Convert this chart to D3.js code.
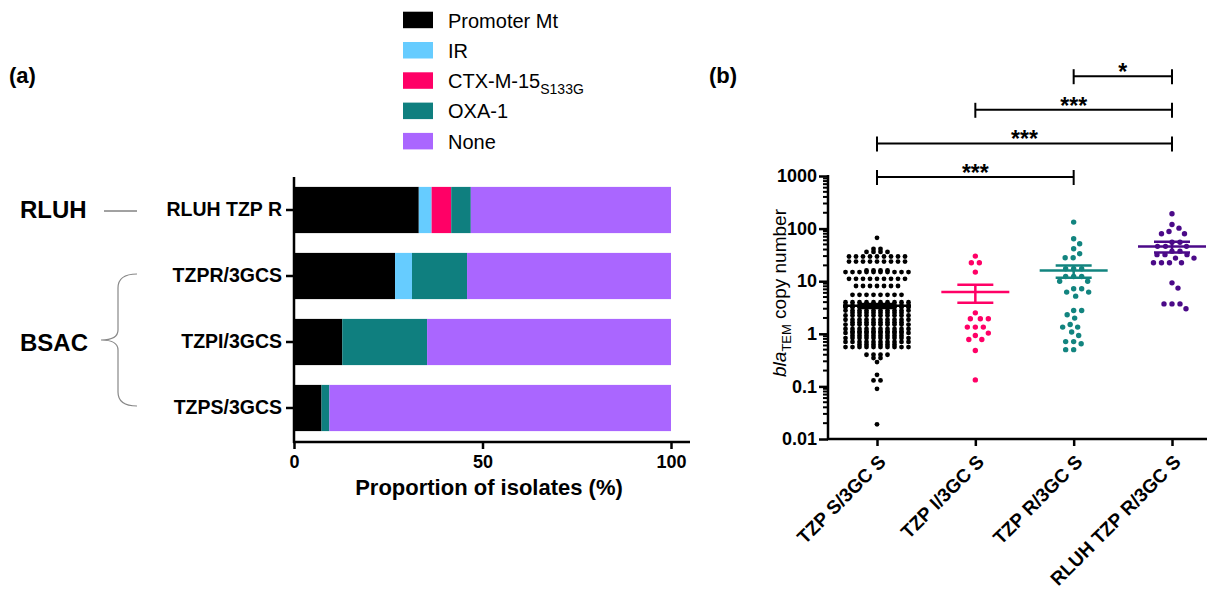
<!DOCTYPE html>
<html>
<head>
<meta charset="utf-8">
<script src="https://cdn.jsdelivr.net/npm/d3@7"></script>
<style>
  body { margin: 0; background: #fff; }
  svg { font-family: "Liberation Sans", Arial, sans-serif; }
</style>
</head>
<body>
<div id="chart"></div>
<script>
// ---- panel (a): stacked proportions ----
const categories = ["RLUH TZP R", "TZPR/3GCS", "TZPI/3GCS", "TZPS/3GCS"];
const promoterMt = [33.1, 26.8, 12.8, 7.3];
const ir         = [3.4, 4.5, 0, 0];
const ctxM15     = [5.2, 0, 0, 0];
const oxa1       = [5.2, 14.6, 22.5, 2.1];
const none       = [53.1, 54.1, 64.7, 90.6];
const xTicksA = [0, 50, 100];

const legendKeys = ["promoter", "ir", "ctx", "oxa", "none"];
const legendLabels = ["Promoter Mt", "IR", "CTX-M-15", "OXA-1", "None"];
const legendColors = ["#000000", "#66ccff", "#ff0066", "#0f7f7f", "#aa66ff"];

// ---- panel (b): blaTEM copy number per isolate ----
const groups = ["TZP S/3GC S", "TZP I/3GC S", "TZP R/3GC S", "RLUH TZP R/3GC S"];
const tzpS = [
  66.8,
  41, 41,
  36, 36, 36, 36,
  29.5, 29.5, 29.5, 29.5, 29.5, 29.5, 29.5, 29.5, 29.5,
  23.6, 23.6, 23.6, 23.6, 23.6, 23.6, 23.6, 23.6, 23.6,
  16, 16, 16, 16,
  14.9, 14.9, 14.9, 14.9, 14.9, 14.9, 14.9, 14.9, 14.9, 14.9,
  11.1, 11.1, 11.1, 11.1, 11.1, 11.1, 11.1, 11.1, 11.1,
  8.1, 8.1, 8.1, 8.1, 8.1, 8.1, 8.1,
  5.5, 5.5, 5.5, 5.5, 5.5, 5.5, 5.5, 5.5,
  4.0, 4.0, 4.0, 4.0, 4.0, 4.0, 4.0, 4.0, 4.0, 4.0,
  3.5, 3.5, 3.5, 3.5, 3.5, 3.5, 3.5, 3.5, 3.5, 3.5,
  3.2, 3.2, 3.2, 3.2, 3.2, 3.2, 3.2, 3.2, 3.2, 3.2,
  2.77, 2.77, 2.77, 2.77, 2.77, 2.77, 2.77, 2.77, 2.77, 2.77,
  2.5, 2.5, 2.5, 2.5, 2.5, 2.5, 2.5, 2.5,
  2.23, 2.23, 2.23, 2.23, 2.23, 2.23, 2.23, 2.23, 2.23, 2.23,
  1.85, 1.85, 1.85, 1.85, 1.85, 1.85, 1.85, 1.85, 1.85, 1.85,
  1.65, 1.65, 1.65, 1.65, 1.65, 1.65, 1.65, 1.65,
  1.5, 1.5, 1.5, 1.5, 1.5, 1.5, 1.5, 1.5, 1.5, 1.5,
  1.24, 1.24, 1.24, 1.24, 1.24, 1.24, 1.24, 1.24, 1.24, 1.24,
  1.1, 1.1, 1.1, 1.1, 1.1, 1.1, 1.1, 1.1,
  1.04, 1.04, 1.04, 1.04, 1.04, 1.04, 1.04, 1.04, 1.04, 1.04,
  0.92, 0.92, 0.92, 0.92, 0.92, 0.92, 0.92, 0.92,
  0.83, 0.83, 0.83, 0.83, 0.83, 0.83, 0.83, 0.83, 0.83, 0.83,
  0.7, 0.7, 0.7, 0.7, 0.7, 0.7, 0.7, 0.7, 0.7, 0.7,
  0.62, 0.62, 0.62, 0.62, 0.62, 0.62,
  0.56, 0.56, 0.56, 0.56, 0.56, 0.56, 0.56, 0.56, 0.56, 0.56,
  0.4, 0.4, 0.4, 0.4,
  0.345, 0.345,
  0.29,
  0.166,
  0.13, 0.13,
  0.09,
  0.019
];
const tzpI = [30, 22.4, 22.4, 14.9, 2.5, 1.93, 1.93, 1.93, 1.34, 1.34, 1.34,
  1.03, 0.93, 0.78, 0.78, 0.48, 0.133];
const tzpR = [133, 64, 51.4, 41.3, 33.2, 27.9, 27.9, 17.2, 17.2, 17.2, 12.3, 12.3, 12.3,
  10, 10, 7.17, 7.17, 6.2, 6.2, 5.2, 2.77, 2.77, 2.3, 1.99, 1.5, 1.34, 1.34,
  1.08, 0.93, 0.71, 0.71, 0.645, 0.5, 0.5];
const rluhR = [191, 120, 102, 88, 79.6, 79.6, 55, 55, 46, 46, 46, 37.3, 37.3,
  32, 32, 32, 27.5, 27.5, 22.4, 22.4, 22.4, 22.4, 9.3, 7.4, 3.7, 3.7, 3.7, 3.0];
const groupValues = [tzpS, tzpI, tzpR, rluhR];
const means   = [3.4, 6.2, 16, 45.5];
const semLow  = [3.1, 3.88, 11.6, 35];
const semHigh = [3.7, 8.6, 19.9, 56];
const groupColors = ["#000000", "#ff0066", "#12847f", "#4b0a88"];
const yTicksB = [0.01, 0.1, 1, 10, 100, 1000];
const sigPairs = [[0, 2], [0, 3], [1, 3], [2, 3]];
const sigLabels = ["***", "***", "***", "*"];

const W = 1219, H = 596;
const svg = d3.select("#chart").append("svg")
  .attr("width", W).attr("height", H);

// ================= panel (a) =================
svg.append("text").attr("x", 9).attr("y", 83)
  .attr("font-size", 22).attr("font-weight", "bold").text("(a)");

const xA = d3.scaleLinear().domain([0, 100]).range([294, 671]);
const yA = d3.scaleBand().domain(categories).range([177, 441])
  .paddingInner(0.3).paddingOuter(0.15);

const table = categories.map((c, i) => ({
  cat: c, promoter: promoterMt[i], ir: ir[i], ctx: ctxM15[i], oxa: oxa1[i], none: none[i]
}));
const series = d3.stack().keys(legendKeys)(table);

svg.append("g").selectAll("g")
  .data(series)
  .enter().append("g")
    .attr("fill", (d, i) => legendColors[i])
  .selectAll("rect")
  .data(d => d)
  .enter().append("rect")
    .attr("x", d => xA(d[0]))
    .attr("y", d => yA(d.data.cat))
    .attr("width", d => xA(d[1]) - xA(d[0]))
    .attr("height", yA.bandwidth());

const axA = svg.append("g").attr("transform", "translate(0,442)")
  .call(d3.axisBottom(xA).tickValues(xTicksA).tickSize(7).tickSizeOuter(0).tickPadding(6));
axA.select(".domain").remove();
axA.selectAll("line").attr("stroke-width", 2.5);
axA.selectAll("text").attr("font-size", 18).attr("font-weight", "bold")
  .attr("font-family", "Liberation Sans, Arial, sans-serif").attr("fill", "#000");
svg.append("line").attr("x1", 293).attr("x2", 690).attr("y1", 442).attr("y2", 442)
  .attr("stroke", "#000").attr("stroke-width", 2.5);

const ayA = svg.append("g").attr("transform", "translate(294,0)")
  .call(d3.axisLeft(yA).tickSize(8).tickSizeOuter(0).tickPadding(4));
ayA.select(".domain").remove();
ayA.selectAll("line").attr("stroke-width", 2.5);
ayA.selectAll("text").attr("font-size", 19.5).attr("font-weight", "bold")
  .attr("font-family", "Liberation Sans, Arial, sans-serif").attr("fill", "#000");
svg.append("line").attr("x1", 294).attr("x2", 294).attr("y1", 177).attr("y2", 443)
  .attr("stroke", "#000").attr("stroke-width", 2.5);

svg.append("text").attr("x", 489).attr("y", 495).attr("text-anchor", "middle")
  .attr("font-size", 22).attr("font-weight", "bold").text("Proportion of isolates (%)");

// source annotations
svg.append("text").attr("x", 20).attr("y", yA(categories[0]) + yA.bandwidth() / 2 + 8)
  .attr("font-size", 24).attr("font-weight", "bold").text("RLUH");
svg.append("line").attr("x1", 104).attr("x2", 137)
  .attr("y1", yA(categories[0]) + yA.bandwidth() / 2 + 1)
  .attr("y2", yA(categories[0]) + yA.bandwidth() / 2 + 1)
  .attr("stroke", "#444").attr("stroke-width", 1);
svg.append("text").attr("x", 20).attr("y", yA(categories[2]) + yA.bandwidth() / 2 + 9)
  .attr("font-size", 24).attr("font-weight", "bold").text("BSAC");
const bTop = yA(categories[1]) + yA.bandwidth() / 2 - 2;
const bBot = yA(categories[3]) + yA.bandwidth() / 2 - 2;
const bMid = (bTop + bBot) / 2;
svg.append("path")
  .attr("d", `M137,${bTop} Q118,${bTop} 118,${bTop + 14} L118,${bMid - 10} Q118,${bMid} 101,${bMid}` +
             ` Q118,${bMid} 118,${bMid + 10} L118,${bBot - 14} Q118,${bBot} 137,${bBot}`)
  .attr("fill", "none").attr("stroke", "#888").attr("stroke-width", 1.2);

// legend
const leg = svg.append("g");
legendLabels.forEach((lab, i) => {
  const by = 27.5 + i * 30.3;
  leg.append("rect").attr("x", 403).attr("y", by - 15.8).attr("width", 30).attr("height", 16.5)
    .attr("fill", legendColors[i]);
  const t = leg.append("text").attr("x", 448).attr("y", by).attr("font-size", 20).text(lab);
  if (lab === "CTX-M-15") {
    t.append("tspan").attr("font-size", 14).attr("dy", 6).text("S133G");
  }
});

// ================= panel (b) =================
svg.append("text").attr("x", 709).attr("y", 83)
  .attr("font-size", 22).attr("font-weight", "bold").text("(b)");

const yB = d3.scaleLog().domain([0.01, 1000]).range([439, 176]);
const xB = d3.scalePoint().domain(groups).range([877, 1172]);

// y axis with minor ticks
const minor = yB.ticks().filter(v => !yTicksB.some(t => Math.abs(t - v) < 1e-9));
svg.append("g").selectAll("line").data(minor).enter().append("line")
  .attr("x1", 823).attr("x2", 828).attr("y1", d => yB(d)).attr("y2", d => yB(d))
  .attr("stroke", "#000").attr("stroke-width", 2);
const ayB = svg.append("g").attr("transform", "translate(828,0)")
  .call(d3.axisLeft(yB).tickValues(yTicksB).tickFormat(d => String(d))
    .tickSize(9).tickSizeOuter(0).tickPadding(2));
ayB.select(".domain").remove();
ayB.selectAll("line").attr("stroke-width", 2.5);
ayB.selectAll("text").attr("font-size", 18).attr("font-weight", "bold")
  .attr("font-family", "Liberation Sans, Arial, sans-serif").attr("fill", "#000");
svg.append("line").attr("x1", 828).attr("x2", 828).attr("y1", 175).attr("y2", 440)
  .attr("stroke", "#000").attr("stroke-width", 2.5);

// x axis
const axB = svg.append("g").attr("transform", "translate(0,439)")
  .call(d3.axisBottom(xB).tickSize(7).tickSizeOuter(0).tickFormat(""));
axB.select(".domain").remove();
axB.selectAll("line").attr("stroke-width", 2.5);
svg.append("line").attr("x1", 827).attr("x2", 1207).attr("y1", 439).attr("y2", 439)
  .attr("stroke", "#000").attr("stroke-width", 2.5);
svg.append("g").selectAll("text").data(groups).enter().append("text")
  .attr("transform", d => `translate(${xB(d) + 10},${463}) rotate(-45)`)
  .attr("text-anchor", "end").attr("font-size", 19).attr("font-weight", "bold")
  .text(d => d);

// y label
const yl = svg.append("text").attr("transform", "translate(786,293) rotate(-90)")
  .attr("text-anchor", "middle").attr("font-size", 19);
yl.append("tspan").attr("font-style", "italic").text("bla");
yl.append("tspan").attr("font-size", 13).attr("dy", 5).text("TEM");
yl.append("tspan").attr("dy", -5).text(" copy number");

// dot layout: rows of equal values for the dense group, beeswarm for the rest
function layout(vals, gi) {
  const pts = [];
  if (gi === 0) {
    const sp = 7;
    d3.groups(vals, v => v).forEach(([v, arr]) => {
      arr.forEach((_, i) => pts.push({ v, dx: (i - (arr.length - 1) / 2) * sp }));
    });
  } else {
    const dmin = 7.6;
    vals.slice().sort((a, b) => b - a).forEach(v => {
      const y = yB(v);
      for (let k = 0; k < 200; k++) {
        const dx = (k % 2 === 1 ? 1 : -1) * Math.ceil(k / 2) * 0.5;
        const ok = pts.every(p => {
          const ddx = p.dx - dx, ddy = yB(p.v) - y;
          return ddx * ddx + ddy * ddy >= dmin * dmin;
        });
        if (ok) { pts.push({ v, dx }); break; }
      }
    });
  }
  return pts;
}

groups.forEach((g, gi) => {
  const pts = layout(groupValues[gi], gi);
  svg.append("g").selectAll("circle").data(pts).enter().append("circle")
    .attr("cx", d => xB(g) + d.dx)
    .attr("cy", d => yB(d.v))
    .attr("r", gi === 0 ? 2.4 : 2.7)
    .attr("fill", groupColors[gi]);
});

// mean and SEM
groups.forEach((g, gi) => {
  const gg = svg.append("g").attr("stroke", groupColors[gi]).attr("stroke-width", 2.5);
  const cx = xB(g);
  gg.append("line").attr("x1", cx - 34).attr("x2", cx + 34)
    .attr("y1", yB(means[gi])).attr("y2", yB(means[gi]));
  gg.append("line").attr("x1", cx).attr("x2", cx)
    .attr("y1", yB(semLow[gi])).attr("y2", yB(semHigh[gi]));
  [semLow[gi], semHigh[gi]].forEach(v => {
    gg.append("line").attr("x1", cx - 18).attr("x2", cx + 18)
      .attr("y1", yB(v)).attr("y2", yB(v));
  });
});

// significance brackets
sigPairs.forEach((p, i) => {
  const y = 177 - i * 33.6;
  const x1 = xB(groups[p[0]]), x2 = xB(groups[p[1]]);
  const gg = svg.append("g").attr("stroke", "#000").attr("stroke-width", 2);
  gg.append("line").attr("x1", x1).attr("x2", x2).attr("y1", y).attr("y2", y);
  gg.append("line").attr("x1", x1).attr("x2", x1).attr("y1", y - 7).attr("y2", y + 8);
  gg.append("line").attr("x1", x2).attr("x2", x2).attr("y1", y - 7).attr("y2", y + 8);
  svg.append("text").attr("x", (x1 + x2) / 2).attr("y", y + 4)
    .attr("text-anchor", "middle").attr("font-size", 23).attr("font-weight", "bold")
    .text(sigLabels[i]);
});
</script>
</body>
</html>
